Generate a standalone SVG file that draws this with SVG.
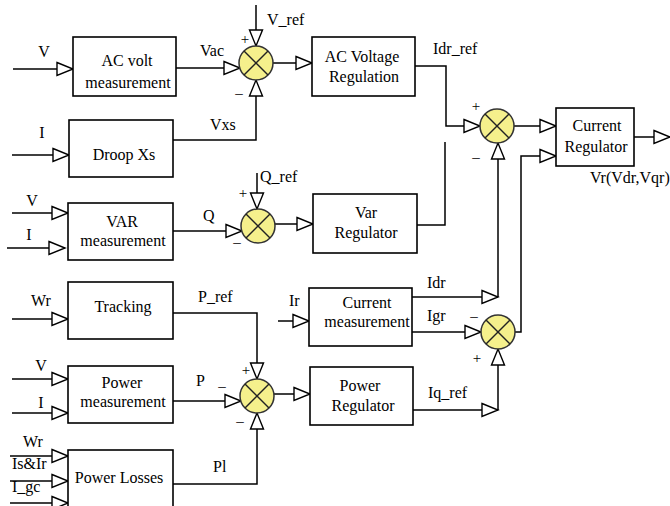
<svg xmlns="http://www.w3.org/2000/svg" width="670" height="506" viewBox="0 0 670 506">
<defs>
<style>
.box{fill:#fff;stroke:#000;stroke-width:1.6}
.t{font-family:"Liberation Serif","Times New Roman",serif;font-size:16px;fill:#000}
.c{text-anchor:middle}
.sg{font-family:"Liberation Serif","Times New Roman",serif;font-size:15px;fill:#000;text-anchor:middle}
.ln{fill:none;stroke:#000;stroke-width:1.5}
.ar{marker-end:url(#tri)}
.sum{fill:#f5f08c;stroke:#333;stroke-width:1.5}
.x{stroke:#222;stroke-width:1.5}
</style>
<marker id="tri" markerUnits="userSpaceOnUse" markerWidth="20" markerHeight="16" refX="0" refY="0" orient="auto" overflow="visible">
<path d="M-16,-6.5 L0,0 L-16,6.5 Z" fill="#fff" stroke="#000" stroke-width="1.4"/>
</marker>
<g id="sumShape">
<circle class="sum" cx="0" cy="0" r="17"/>
<line class="x" x1="-12" y1="-12" x2="12" y2="12"/>
<line class="x" x1="-12" y1="12" x2="12" y2="-12"/>
</g>
</defs>
<rect width="670" height="506" fill="#fff"/>

<g id="connectors">
<!-- inputs -->
<path class="ln ar" d="M13,69 H73"/>
<path class="ln ar" d="M12,155 H69"/>
<path class="ln ar" d="M12,213 H68"/>
<path class="ln ar" d="M7,248 H65"/>
<path class="ln ar" d="M12,319 H68"/>
<path class="ln ar" d="M12,379 H68"/>
<path class="ln ar" d="M12,413 H68"/>
<path class="ln ar" d="M278,321 H309"/>
<path class="ln ar" d="M10,456 H68"/>
<path class="ln ar" d="M10,481 H68"/>
<path class="ln ar" d="M10,503 H68"/>
<!-- S1 -->
<path class="ln ar" d="M176,68 H240"/>
<path class="ln ar" d="M256,5 V46"/>
<path class="ln ar" d="M173,140 H256 V80"/>
<path class="ln ar" d="M273,63 H312"/>
<!-- S2 -->
<path class="ln ar" d="M173,231 H242"/>
<path class="ln ar" d="M257,173 V209"/>
<path class="ln ar" d="M274,224 H313"/>
<!-- S3 -->
<path class="ln ar" d="M173,313 H257 V379"/>
<path class="ln ar" d="M173,401 H241"/>
<path class="ln ar" d="M173,484 H257 V413"/>
<path class="ln ar" d="M274,394 H310"/>
<!-- S4 -->
<path class="ln ar" d="M415,66 H446 V126 H480"/>
<path class="ln" d="M417,225 H445 V142"/>
<path class="ln ar" d="M412,297 H498"/>
<path class="ln ar" d="M498,297 V143"/>
<path class="ln ar" d="M514,126 H556"/>
<!-- S5 -->
<path class="ln ar" d="M412,332 H481"/>
<path class="ln ar" d="M413,410 H498"/>
<path class="ln ar" d="M498,410 V349"/>
<path class="ln ar" d="M515,332 H521 V156 H556"/>
<path class="ln ar" d="M634,137 H670"/>
</g>

<g id="labels">
<text class="t c" x="44" y="57">V</text>
<text class="t" x="200" y="56">Vac</text>
<text class="t" x="267" y="25">V_ref</text>
<text class="t c" x="42" y="138">I</text>
<text class="t" x="210" y="130">Vxs</text>
<text class="t" x="433" y="54">Idr_ref</text>
<text class="t" x="590" y="183">Vr(Vdr,Vqr)</text>
<text class="t c" x="32" y="206">V</text>
<text class="t c" x="29" y="240">I</text>
<text class="t" x="203" y="221">Q</text>
<text class="t" x="260" y="182">Q_ref</text>
<text class="t" x="31" y="306">Wr</text>
<text class="t" x="198" y="302">P_ref</text>
<text class="t" x="289" y="306">Ir</text>
<text class="t" x="427" y="288">Idr</text>
<text class="t" x="427" y="321">Igr</text>
<text class="t c" x="41" y="371">V</text>
<text class="t c" x="41" y="408">I</text>
<text class="t" x="196" y="386">P</text>
<text class="t" x="213" y="472">Pl</text>
<text class="t" x="428" y="398">Iq_ref</text>
<text class="t" x="23" y="447">Wr</text>
<text class="t" x="12" y="469">Is&amp;Ir</text>
<text class="t" x="12" y="492">I_gc</text>
</g>

<g id="acVoltMeas"><rect class="box" x="73" y="37" width="103" height="59"/><text class="t c" x="127" y="66">AC volt</text><text class="t c" x="128" y="88">measurement</text></g>
<g id="droopXs"><rect class="box" x="69" y="120" width="104" height="57"/><text class="t c" x="124" y="160">Droop Xs</text></g>
<g id="acVoltageReg"><rect class="box" x="312" y="37" width="103" height="59"/><text class="t c" x="362" y="62">AC Voltage</text><text class="t c" x="364" y="82">Regulation</text></g>
<g id="currentReg"><rect class="box" x="556" y="108" width="78" height="58"/><text class="t c" x="597" y="131">Current</text><text class="t c" x="596" y="152">Regulator</text></g>
<g id="varMeas"><rect class="box" x="68" y="203" width="105" height="57"/><text class="t c" x="122" y="227">VAR</text><text class="t c" x="123" y="246">measurement</text></g>
<g id="varReg"><rect class="box" x="313" y="194" width="104" height="59"/><text class="t c" x="366" y="218">Var</text><text class="t c" x="366" y="238">Regulator</text></g>
<g id="tracking"><rect class="box" x="68" y="282" width="105" height="57"/><text class="t c" x="123" y="312">Tracking</text></g>
<g id="currentMeas"><rect class="box" x="309" y="288" width="103" height="58"/><text class="t c" x="367" y="308">Current</text><text class="t c" x="367" y="327">measurement</text></g>
<g id="powerMeas"><rect class="box" x="68" y="366" width="105" height="57"/><text class="t c" x="122" y="388">Power</text><text class="t c" x="123" y="407">measurement</text></g>
<g id="powerReg"><rect class="box" x="310" y="367" width="103" height="58"/><text class="t c" x="360" y="391">Power</text><text class="t c" x="363" y="411">Regulator</text></g>
<g id="powerLosses"><rect class="box" x="68" y="450" width="105" height="62"/><text class="t c" x="119" y="483">Power Losses</text></g>

<g id="sum1"><use href="#sumShape" x="256" y="63"/><text class="sg" x="245" y="44">+</text><text class="sg" x="239" y="98">–</text></g>
<g id="sum2"><use href="#sumShape" x="258" y="226"/><text class="sg" x="243" y="198">+</text><text class="sg" x="237" y="247">–</text></g>
<g id="sum3"><use href="#sumShape" x="257" y="396"/><text class="sg" x="246" y="375">+</text><text class="sg" x="222" y="391">–</text><text class="sg" x="240" y="426">–</text></g>
<g id="sum4"><use href="#sumShape" x="497" y="126"/><text class="sg" x="476" y="111">+</text><text class="sg" x="476" y="162">–</text></g>
<g id="sum5"><use href="#sumShape" x="498" y="332"/><text class="sg" x="474" y="321">–</text><text class="sg" x="477" y="363">+</text></g>
</svg>
